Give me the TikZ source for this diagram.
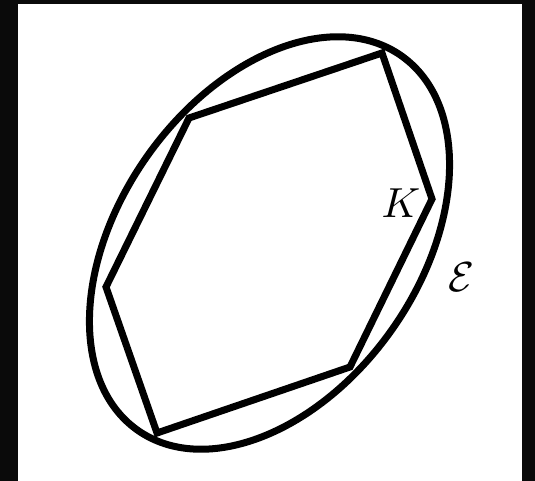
\documentclass[tikz,border=0pt]{standalone}
\begin{document}
\begin{tikzpicture}[x=1pt,y=1pt,
  shape line/.style={line width=7pt, draw=black},
  lab/.style={inner sep=0pt, scale=4.2}]
\fill[black!96] (0,0) rectangle (535,481);
\fill[white] (18,0) rectangle (522,477);
\useasboundingbox (0,0) rectangle (535,481);
\coordinate (c) at (269.5,238);
\coordinate (p1) at (382,428);
\coordinate (p2) at (189,363);
\coordinate (p3) at (106,194);
\coordinate (p4) at (157,48);
\coordinate (p5) at (350,114);
\coordinate (p6) at (432,282);
\draw[shape line, rotate around={54.85:(c)}] (c) ellipse [x radius=229pt, y radius=150pt];
\draw[shape line] (p1) -- (p2) -- (p3) -- (p4) -- (p5) -- (p6) -- cycle;
\node[lab] (K) at (401,278) {$K$};
\node[lab] (E) at (461,204) {$\mathcal{E}$};
\end{tikzpicture}
\end{document}
